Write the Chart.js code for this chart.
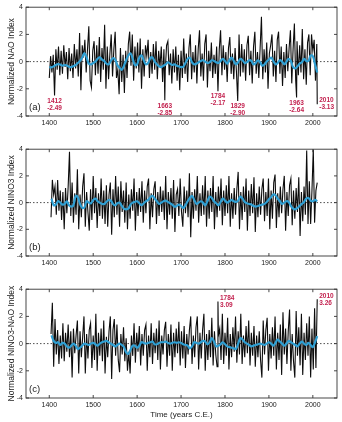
<!DOCTYPE html>
<html>
<head>
<meta charset="utf-8">
<title>NAO / NINO3</title>
<script src="https://cdn.jsdelivr.net/npm/chart.js@4.4.0/dist/chart.umd.min.js"></script>
<style>
  body { margin: 0; background: #fff; }
  canvas { position: absolute; left: 0; }
  #grafica_a { top: 0; }
  #grafica_b { top: 142px; }
  #grafica_c { top: 282px; }
</style>
</head>
<body>
<canvas id="grafica_a" width="342" height="130"></canvas>
<canvas id="grafica_b" width="342" height="130"></canvas>
<canvas id="grafica_c" width="342" height="140"></canvas>
<script>
// ---- datos ----
// marcas de los ejes
var aniosEje = [1400, 1500, 1600, 1700, 1800, 1900, 2000];
var indiceEje = [-4, -2, 0, 2, 4];

// serie anual (cada 3 años) y media suavizada (cada 5 años)
var naoInicio = 1400;
var naoAnual = [
  -1.2, 0.4, -0.8, 0.5, null, 0.9, -0.6, 1.1, -1.0, 0.8,
  -0.9, 1.2, -0.4, 0.7, -1.3, 1.0, -0.7, 0.6, -1.2, 1.3,
  -0.5, 0.9, -1.1, 2.1, -2.1, 1.2, 0.3, 1.6, -0.8, 0.9,
  2.6, -1.4, -1.9, 0.8, 1.5, -1.0, 1.2, -0.9, 1.8, -1.5,
  1.0, -0.6, 2.7, -2.0, 1.1, -1.3, 0.6, 2.0, -1.1, 0.9,
  2.2, -1.2, -0.6, -2.4, 1.0, -1.5, 0.5, -2.3, 0.8, -1.2,
  1.3, 2.2, -0.3, 2.0, -1.4, 1.1, -0.5, 1.4, -0.8, 1.7,
  -2.0, 0.9, -1.1, 1.2, 0.4, 1.6, -1.2, 0.7, -0.9, 1.3,
  -0.6, 1.5, -1.3, 0.8, -0.4, 1.1, -1.5, 0.9, -0.7, 1.2,
  1.5, -1.0, 0.6, -1.6, 0.9, -0.8, 1.1, -1.4, 0.5, -2.1,
  0.8, -1.2, 1.7, -0.9, 0.6, -1.5, 1.0, 2.0, -1.3, 0.7,
  -0.8, 1.2, -1.6, 0.9, 2.3, -1.1, 0.6, -1.4, 1.3, 2.0,
  -1.9, 0.8, -0.7, 1.4, -1.2, 0.5, -0.9, 1.1, null, 0.9,
  2.3, -1.0, 1.2, -0.6, 0.7, -1.5, 1.0, 1.8, -0.9, 0.6,
  -1.3, 1.0, -0.7, null, 2.0, -1.1, 1.3, -0.8, 0.9, -1.4,
  1.2, 1.9, -1.0, 0.8, -1.6, 1.1, 2.2, -0.9, 0.7, -1.2,
  1.0, 3.3, -1.3, 0.9, -0.8, 1.4, -2.0, 0.6, 1.2, 2.0,
  -1.1, 0.8, -1.5, 1.6, 2.2, -0.9, 1.1, -1.8, 0.7, -1.2,
  1.3, -0.7, 1.0, 2.3, -1.6, 0.9, 2.8, -1.4, 1.5, -1.0,
  1.2, -0.8, 2.4, -1.3, 0.9, -1.7, 1.4, 2.0, -1.0, 2.0,
  0.8, 1.6, -1.4, 1.3
];
var naoMediaInicio = 1400;
var naoMedia = [
  -0.40, -0.42, -0.35, -0.25, -0.18, -0.22, -0.30, -0.25, -0.28, -0.38,
  -0.40, -0.33, -0.25, -0.10, 0.05, 0.30, 0.62, 0.30, -0.15, -0.20,
  -0.10, 0.00, 0.20, 0.32, 0.15, 0.05, -0.15, -0.20, 0.05, 0.25,
  0.15, -0.25, -0.45, -0.60, -0.30, 0.10, 0.45, 0.60, 0.20, -0.25,
  -0.20, 0.30, 0.45, 0.10, -0.20, -0.10, 0.25, 0.30, 0.00, -0.20,
  -0.35, -0.40, -0.30, -0.20, -0.05, -0.15, -0.25, -0.20, -0.30, -0.35,
  -0.40, -0.38, -0.10, 0.20, 0.28, -0.05, -0.20, -0.15, -0.05, 0.05,
  0.10, 0.00, -0.10, -0.05, 0.10, 0.05, -0.05, -0.10, 0.05, 0.20,
  0.05, -0.15, 0.10, 0.30, 0.05, -0.20, -0.05, 0.20, 0.10, -0.10,
  -0.05, 0.10, 0.05, -0.20, -0.10, 0.10, -0.05, -0.30, -0.20, 0.00,
  0.15, 0.30, 0.05, -0.20, -0.10, 0.10, 0.00, -0.20, 0.00, 0.20,
  0.05, -0.40, -0.50, -0.35, -0.15, -0.05, 0.20, 0.05, 0.05, 0.45,
  0.40, -0.20, -0.80
];
// años extremos rotulados
var naoExtAnios = [1412, 1663, 1784, 1829, 1963, 2010];
var naoExtValores = [-2.49, -2.85, -2.17, -2.90, -2.64, -3.13];

var ninoInicio = 1404;
var ninoAnual = [
  -1.1, 1.7, 0.6, 1.2, -0.9, 1.7, -0.6, 0.9, -1.3, 0.8,
  -2.0, 1.1, -0.8, 1.2, 3.8, -1.0, 1.5, -1.5, 0.7, -0.9,
  2.5, -2.0, 0.6, -1.1, 1.2, 2.2, -1.8, 0.8, -0.7, -2.1,
  1.0, -1.3, 2.0, -0.8, 1.1, -1.9, 0.7, -1.0, 1.8, -1.2,
  0.9, -1.6, 1.3, -1.8, 0.6, 1.5, -2.4, 1.0, -1.1, 2.0,
  -0.9, 1.2, -1.8, 1.6, -0.7, 0.9, -1.5, 1.5, -2.0, 0.6,
  -1.2, 1.0, -0.6, 1.8, -2.1, 0.8, -1.0, 1.1, -0.7, 1.6,
  -1.5, 0.9, -0.8, 1.2, 1.8, -2.0, 0.7, -1.1, 1.0, 1.6,
  -1.6, 0.8, -1.0, 1.2, -0.7, 0.9, -1.3, 2.0, -2.0, 0.8,
  -0.9, 1.1, -1.2, 1.7, -2.2, 0.6, 1.0, -1.0, 1.8, -0.7,
  -1.8, 1.2, -0.8, 0.9, -1.1, 2.2, -2.6, 0.8, -1.2, 1.0,
  -0.6, 2.0, -1.5, 0.7, -1.0, 1.3, -0.9, 2.0, -1.8, 0.9,
  -1.2, 1.1, -0.7, 2.0, -2.0, 0.8, -1.1, 1.2, -0.6, 1.8,
  -1.7, 0.9, -1.0, 1.3, -0.8, 2.0, -1.8, 0.7, -1.2, 1.1,
  -0.9, 1.0, 2.3, -2.0, 0.8, -1.3, 1.2, -0.7, 1.8, -2.1,
  0.9, -1.0, 1.4, -0.8, 1.9, -2.2, 0.7, -1.1, 1.2, -0.9,
  1.0, 1.8, -1.4, 0.8, -1.0, 1.8, -2.0, 0.9, -1.2, 1.5,
  2.1, -1.9, 0.7, -1.1, 1.2, -0.8, 1.0, 2.0, -2.1, 0.8,
  -1.0, 1.3, 1.8, -1.7, 0.9, -1.2, 1.1, -0.7, 1.9, -2.5,
  0.8, -1.4, 1.2, -0.9, 3.9, -1.6, 1.6, -1.6, 0.9, 4.0,
  -1.5, 0.9, 1.5
];
var ninoMediaInicio = 1405;
var ninoMedia = [
  0.30, -0.20, -0.15, 0.10, 0.00, -0.15, -0.10, 0.10, -0.20, -0.30,
  -0.20, 0.50, 0.40, -0.10, -0.40, -0.35, 0.10, 0.00, -0.05, 0.20,
  0.30, 0.10, 0.00, -0.10, -0.10, 0.05, 0.20, 0.15, -0.10, -0.20,
  -0.05, 0.00, -0.25, -0.45, -0.50, -0.45, -0.15, 0.00, 0.05, 0.10,
  -0.05, -0.20, -0.05, 0.10, 0.20, 0.40, 0.50, 0.30, 0.10, -0.10,
  0.00, 0.10, 0.15, 0.05, -0.05, -0.15, -0.30, -0.25, -0.15, -0.25,
  -0.40, -0.20, 0.10, 0.35, 0.50, 0.20, -0.10, 0.00, 0.10, 0.00,
  -0.20, 0.10, 0.45, 0.35, 0.10, -0.05, -0.20, 0.05, 0.30, 0.15,
  0.00, 0.10, 0.20, 0.10, 0.05, 0.15, 0.45, 0.30, 0.05, -0.05,
  -0.10, -0.15, -0.25, -0.30, -0.25, -0.20, -0.15, -0.10, 0.05, 0.25,
  0.40, 0.60, 0.55, 0.30, 0.10, -0.10, 0.00, 0.10, 0.05, -0.25,
  -0.45, -0.50, -0.40, -0.25, -0.10, 0.05, 0.30, 0.35, 0.15, 0.10,
  0.20, 0.10
];

var difInicio = 1404;
var difAnual = [
  0.7, 3.0, -1.7, 1.8, -0.8, 1.0, -1.5, 0.6, -1.1, 1.5,
  -1.3, 0.8, -0.6, 1.4, -1.0, 0.9, -2.5, 1.1, -0.7, 0.6,
  1.7, -2.2, 0.9, -1.0, 0.5, 2.0, -2.2, 0.7, -1.1, 1.0,
  1.5, -1.8, 0.6, -1.2, 2.2, -2.0, 0.8, -0.9, 1.1, -1.3,
  1.7, -2.2, 0.5, -1.0, 0.9, 2.0, -2.6, 1.0, 1.8, -0.9,
  1.4, -1.2, -2.1, 0.7, -0.8, 1.2, -1.3, 0.4, -2.0, -0.6,
  -2.2, 0.6, -0.9, 1.5, -1.4, 0.8, -0.6, 1.3, -1.6, 0.7,
  -0.9, 1.0, 1.4, -2.0, 0.6, -1.0, 1.5, -1.5, 0.8, -0.7,
  1.1, -1.2, 1.7, -1.9, 0.6, -0.8, 1.0, 1.6, -1.7, 0.7,
  -0.9, 1.4, -2.0, 0.8, -1.0, 1.1, -0.7, 1.6, -1.6, 0.9,
  -1.1, 1.3, -1.8, 0.7, -0.8, 1.0, 2.0, -1.5, 0.6, -1.0,
  1.2, 2.0, -1.9, 0.8, -1.1, 1.0, 2.2, -2.0, 0.7, -1.2,
  1.0, -1.0, 1.9, -1.6, 0.9, -0.8, -1.7, 0.6, 1.1, -1.2,
  2.2, -1.5, 0.8, -0.9, 1.9, -1.9, 0.7, -1.0, 1.2, -0.6,
  2.0, -1.4, 0.9, -0.8, 2.2, -1.5, 0.6, -1.0, 1.3, -0.7,
  1.7, -1.6, 0.8, -0.9, 1.3, -1.7, 0.6, -1.0, 0.9, -1.2,
  -2.5, 1.7, -0.8, 1.0, 1.9, -2.0, 0.7, -1.1, 1.2, -0.9,
  2.0, -1.9, 0.8, -1.2, 1.4, -2.3, 2.3, -0.8, 1.1, -1.5,
  0.9, 2.5, -2.0, 0.7, -1.3, -2.5, 2.4, -0.9, 1.2, -1.6,
  2.2, -2.3, 0.8, -1.2, 1.5, -0.9, 2.0, -2.5, 1.1, -1.9,
  2.6, -1.8
];
var difMediaInicio = 1405;
var difMedia = [
  0.60, 0.20, 0.05, 0.10, -0.10, 0.05, 0.00, -0.20, -0.30, -0.15,
  0.00, -0.15, -0.40, -0.30, -0.15, 0.00, -0.05, -0.10, 0.00, 0.05,
  -0.05, -0.15, 0.00, 0.10, 0.15, 0.20, 0.10, 0.00, -0.10, -0.20,
  -0.10, 0.00, -0.10, -0.25, -0.65, -0.75, -0.45, -0.15, -0.15, -0.30,
  -0.15, 0.10, 0.05, 0.00, 0.05, 0.10, 0.15, -0.05, -0.05, 0.05,
  0.10, 0.10, 0.15, 0.05, 0.00, 0.05, 0.10, 0.05, 0.10, 0.05,
  -0.05, -0.10, -0.15, -0.35, -0.20, 0.10, 0.05, 0.00, 0.10, 0.20,
  0.15, -0.05, 0.10, 0.40, 0.15, -0.20, -0.15, -0.05, 0.10, -0.05,
  -0.20, -0.25, -0.30, -0.35, -0.40, 0.00, 0.40, 0.30, 0.10, 0.00,
  -0.10, -0.20, -0.15, -0.10, -0.05, 0.00, -0.05, -0.10, 0.00, 0.10,
  0.00, -0.15, 0.05, 0.30, 0.15, 0.00, -0.15, 0.00, 0.20, 0.10,
  0.00, -0.10, -0.20, 0.00, 0.15, 0.00, -0.10, 0.05, -0.10, -0.25,
  0.10, 0.55
];
var difExtAnios = [1784, 2010];
var difExtValores = [3.09, 3.26];

// ---- estilos ----
var fuente = "'Liberation Sans', Arial, Helvetica, sans-serif";
var colorNegro = "#0c0c0c";
var colorAzul = "#2f9fd3";
var colorRotulo = "#c3224f";

// arma la serie {x, y}, metiendo los extremos en su lugar
function armarSerie(inicio, paso, valores, aniosExtra, valoresExtra){
  var puntos = [];
  valores.forEach(function(v, i){
    if (v !== null) puntos.push({x: inicio + i * paso, y: v});
  });
  (aniosExtra || []).forEach(function(a, i){
    puntos.push({x: a, y: valoresExtra[i]});
  });
  puntos.sort(function(p, q){ return p.x - q.x; });
  return puntos;
}

function marcas(lista){
  return function(s){
    s.ticks = lista.map(function(v){ return {value: v}; });
  };
}

// marco, marcas hacia adentro, linea de cero, letra del panel y rotulos
var marcoPlugin = {
  id: "marco",
  beforeDatasetsDraw: function(chart){
    var ctx = chart.ctx, area = chart.chartArea;
    var y0 = chart.scales.y.getPixelForValue(0);
    ctx.save();
    ctx.strokeStyle = "#222";
    ctx.lineWidth = 0.8;
    ctx.setLineDash([1.5, 2]);
    ctx.beginPath();
    ctx.moveTo(area.left, y0);
    ctx.lineTo(area.right, y0);
    ctx.stroke();
    ctx.restore();
  },
  afterDraw: function(chart){
    var ctx = chart.ctx, area = chart.chartArea;
    var sx = chart.scales.x, sy = chart.scales.y;
    var cfg = chart.options.plugins.marco;
    ctx.save();
    ctx.strokeStyle = "#333";
    ctx.lineWidth = 0.9;
    ctx.strokeRect(area.left, area.top, area.right - area.left, area.bottom - area.top);
    ctx.beginPath();
    sx.ticks.forEach(function(t){
      var px = sx.getPixelForValue(t.value);
      ctx.moveTo(px, area.bottom); ctx.lineTo(px, area.bottom - 3);
      ctx.moveTo(px, area.top); ctx.lineTo(px, area.top + 3);
    });
    sy.ticks.forEach(function(t){
      var py = sy.getPixelForValue(t.value);
      ctx.moveTo(area.left, py); ctx.lineTo(area.left + 3, py);
      ctx.moveTo(area.right, py); ctx.lineTo(area.right - 3, py);
    });
    ctx.stroke();

    // letra del panel
    ctx.fillStyle = "#222";
    ctx.font = "9.5px " + fuente;
    ctx.textAlign = "left";
    ctx.textBaseline = "middle";
    ctx.fillText(cfg.letra, area.left + 3, area.bottom - 9);

    // rotulos de los extremos
    ctx.fillStyle = colorRotulo;
    ctx.font = "bold 6.5px " + fuente;
    (cfg.anios || []).forEach(function(a, i){
      var v = cfg.valores[i];
      var px = sx.getPixelForValue(a), py = sy.getPixelForValue(v);
      var txt = v.toFixed(2);
      if (cfg.lados[i] === "derecha") {
        ctx.textAlign = "left";
        ctx.fillText(String(a), px + 2, py - 3.5);
        ctx.fillText(txt, px + 2, py + 3.5);
      } else {
        ctx.textAlign = "center";
        ctx.fillText(String(a), px, py + 5.5);
        ctx.fillText(txt, px, py + 12.5);
      }
    });
    ctx.restore();
  }
};

function crearGrafica(id, anual, media, tituloY, tituloX, altoX, marco){
  var escalaX = {
    type: "linear",
    min: 1347,
    max: 2055,
    grid: { display: false, drawTicks: false },
    border: { display: false },
    afterBuildTicks: marcas(aniosEje),
    ticks: {
      padding: 3,
      maxRotation: 0,
      autoSkip: false,
      color: "#222",
      font: { family: fuente, size: 7 },
      callback: function(v){ return String(v); }
    },
    afterFit: function(s){ s.height = altoX; }
  };
  if (tituloX) {
    escalaX.title = {
      display: true,
      text: tituloX,
      color: "#222",
      font: { family: fuente, size: 8 },
      padding: { top: 0, bottom: 2 }
    };
  }

  return new Chart(document.getElementById(id).getContext("2d"), {
    type: "line",
    data: {
      datasets: [{
        data: media,
        borderColor: colorAzul,
        borderWidth: 2.2,
        pointRadius: 0,
        tension: 0.4
      }, {
        data: anual,
        borderColor: colorNegro,
        borderWidth: 1.1,
        pointRadius: 0,
        tension: 0
      }]
    },
    options: {
      responsive: false,
      animation: false,
      layout: { padding: { top: 6, right: 5, left: 0, bottom: 0 } },
      plugins: {
        legend: { display: false },
        tooltip: { enabled: false },
        marco: marco
      },
      scales: {
        x: escalaX,
        y: {
          min: -4,
          max: 4,
          grid: { display: false, drawTicks: false },
          border: { display: false },
          afterBuildTicks: marcas(indiceEje),
          ticks: {
            padding: 3,
            autoSkip: false,
            color: "#222",
            font: { family: fuente, size: 7 }
          },
          title: {
            display: true,
            text: tituloY,
            color: "#222",
            font: { family: fuente, size: 8.5 },
            padding: { top: 7, bottom: 0 }
          },
          afterFit: function(s){ s.width = 26; }
        }
      }
    },
    plugins: [marcoPlugin]
  });
}

crearGrafica("grafica_a",
  armarSerie(naoInicio, 3, naoAnual, naoExtAnios, naoExtValores),
  armarSerie(naoMediaInicio, 5, naoMedia),
  "Normalized NAO Index", null, 14,
  { letra: "(a)", anios: naoExtAnios, valores: naoExtValores,
    lados: ["abajo", "abajo", "abajo", "abajo", "abajo", "derecha"] });

crearGrafica("grafica_b",
  armarSerie(ninoInicio, 3, ninoAnual),
  armarSerie(ninoMediaInicio, 5, ninoMedia),
  "Normalized NINO3 Index", null, 16,
  { letra: "(b)" });

crearGrafica("grafica_c",
  armarSerie(difInicio, 3, difAnual, difExtAnios, difExtValores),
  armarSerie(difMediaInicio, 5, difMedia),
  "Normalized NINO3-NAO Index", "Time (years C.E.)", 24,
  { letra: "(c)", anios: difExtAnios, valores: difExtValores,
    lados: ["derecha", "derecha"] });
</script>
</body>
</html>
